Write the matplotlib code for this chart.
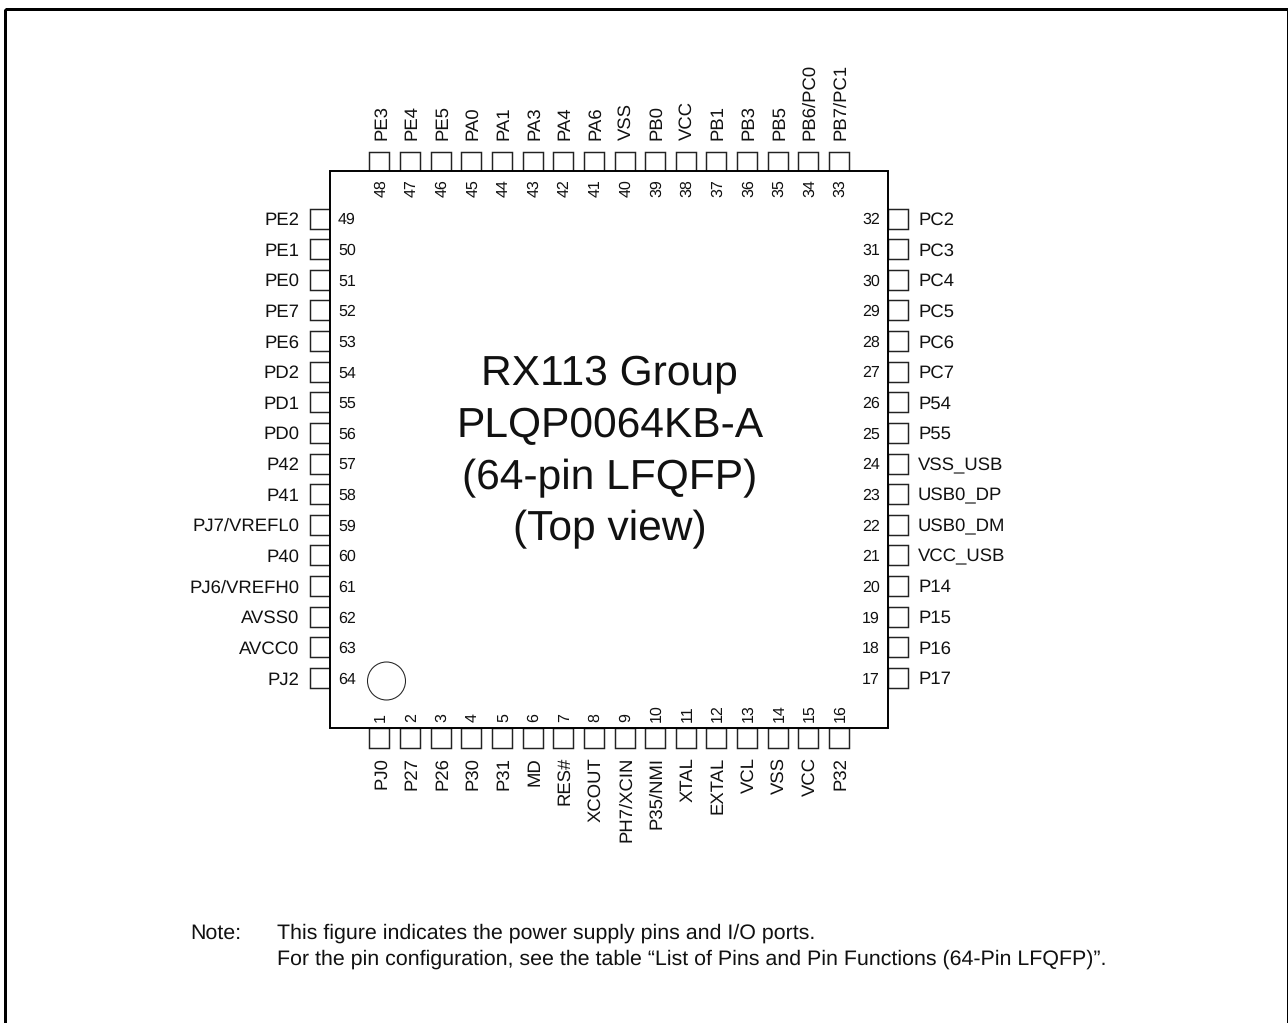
import matplotlib
matplotlib.use("Agg")
import matplotlib.pyplot as plt
from matplotlib.patches import Rectangle, Circle

plt.rcParams['font.family'] = ['Liberation Sans', 'DejaVu Sans']
plt.rcParams['text.hinting'] = 'none'
plt.rcParams['text.hinting_factor'] = 8

bottom_pins = ["PJ0","P27","P26","P30","P31","MD","RES#","XCOUT","PH7/XCIN","P35/NMI","XTAL","EXTAL","VCL","VSS","VCC","P32"]
right_pins = ["P17","P16","P15","P14","VCC_USB","USB0_DM","USB0_DP","VSS_USB","P55","P54","PC7","PC6","PC5","PC4","PC3","PC2"]
top_pins = ["PB7/PC1","PB6/PC0","PB5","PB3","PB1","VCC","PB0","VSS","PA6","PA4","PA3","PA1","PA0","PE5","PE4","PE3"]
left_pins = ["PE2","PE1","PE0","PE7","PE6","PD2","PD1","PD0","P42","P41","PJ7/VREFL0","P40","PJ6/VREFH0","AVSS0","AVCC0","PJ2"]
title_lines = ["RX113 Group","PLQP0064KB-A","(64-pin LFQFP)","(Top view)"]
note_lines = ["This figure indicates the power supply pins and I/O ports.",
              "For the pin configuration, see the table \u201cList of Pins and Pin Functions (64-Pin LFQFP)\u201d."]

W, H = 1288, 1023
fig = plt.figure(figsize=(W/100, H/100), dpi=100)
ax = fig.add_axes([0, 0, 1, 1])
ax.set_xlim(0, W); ax.set_ylim(H, 0); ax.axis('off')

L, R, T, B = 330, 888, 171, 728
X0 = 379.5; Y0 = 218.5; PITCH = 30.63; LEN = 19.5
LBL = 18.5; NUM = 16; NOTE = 21.4; TITLE = 42.5
LB = 6.4; NB = 5.7   # half cap height of labels / numbers
INK = '#111111'

ax.add_patch(Rectangle((5.5, 8.5), 1283, H + 20, fc='none', ec='black', lw=2.16))

def box(x, y, w, h):
    ax.add_patch(Rectangle((x, y), w, h, fc='white', ec='#222222', lw=1.05, zorder=2))

def t(x, y, s, size, ha='left', rot=0):
    ax.text(x, y, s, fontsize=size*0.72, ha=ha, va='baseline', rotation=rot,
            rotation_mode='anchor', color=INK, zorder=5)

for i, name in enumerate(bottom_pins):
    x = X0 + i*PITCH
    box(x - 10, B, 20, LEN)
    t(x + NB, 722, str(1 + i), NUM, ha='left', rot=90)
    t(x + LB, 757, name, LBL, ha='right', rot=90)

for i, name in enumerate(right_pins):
    y = Y0 + 15*PITCH - i*PITCH
    box(R, y - 10, LEN + .5, 20)
    t(880, y + NB, str(17 + i), NUM, ha='right')
    t(918, y + LB, name, LBL, ha='left')

for i, name in enumerate(top_pins):
    x = X0 + (15 - i)*PITCH
    box(x - 10, T - LEN, 20, LEN)
    t(x + NB, 196.7, str(33 + i), NUM, ha='left', rot=90)
    t(x + LB, 139.5, name, LBL, ha='left', rot=90)

for i, name in enumerate(left_pins):
    y = Y0 + i*PITCH
    box(L - LEN, y - 10, LEN, 20)
    t(338, y + NB, str(49 + i), NUM, ha='left')
    t(299.5, y + LB, name, LBL, ha='right')

ax.add_patch(Rectangle((L, T), R - L, B - T, fc='white', ec='black', lw=1.4, zorder=3))
ax.add_patch(Circle((386.5, 681), 19, fc='white', ec='#222222', lw=0.75, zorder=4))

for i, line in enumerate(title_lines):
    t(609.7, 385.7 + i*51.6, line, TITLE, ha='center')

t(190, 938.7, "Note:", NOTE)
for i, line in enumerate(note_lines):
    t(277, 938.7 + i*25.6, line, NOTE)

fig.savefig("out.png", dpi=100)
